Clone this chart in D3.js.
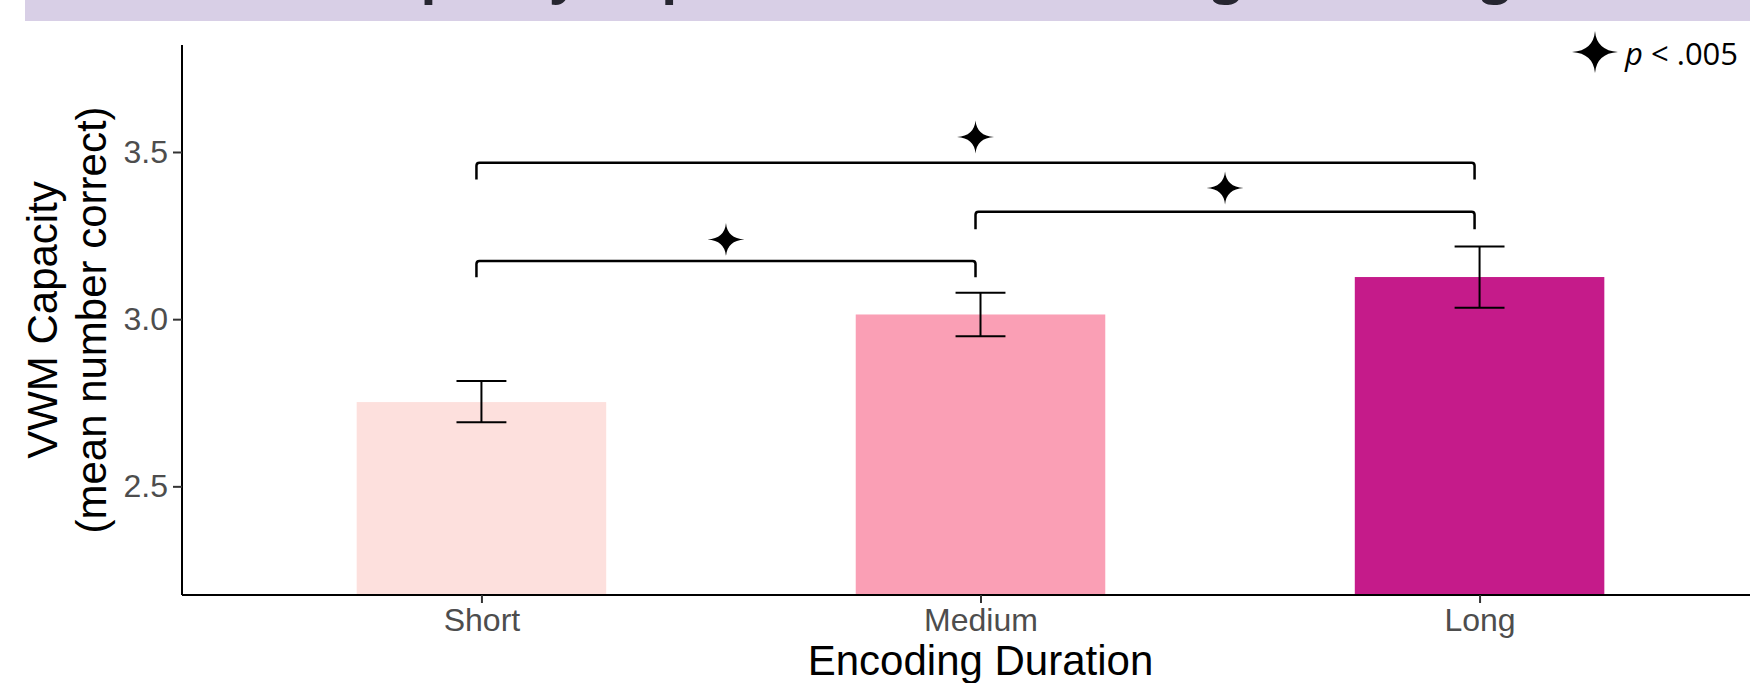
<!DOCTYPE html>
<html>
<head>
<meta charset="utf-8">
<script src="https://cdn.jsdelivr.net/npm/d3@7"></script>
<style>
  body { margin: 0; background: #fff; }
  svg { display: block; }
</style>
</head>
<body>
<div id="chart"></div>
<script>
// data
const categories = ["Short", "Medium", "Long"];
const means = [2.752, 3.014, 3.126];
const errLow = [2.692, 2.949, 3.034];
const errHigh = [2.815, 3.079, 3.217];
const barColors = ["#fde0dd", "#fa9fb5", "#c51b8a"];
const yTicks = [2.5, 3.0, 3.5];
const yDomain = [2.175, 3.82];

// significance brackets
const bracketFrom = ["Short", "Medium", "Short"];
const bracketTo = ["Medium", "Long", "Long"];
const bracketY = [3.174, 3.321, 3.468];
const bracketTip = [3.125, 3.269, 3.418];
const starY = [3.238, 3.392, 3.545];

const titleText = "VWM Capacity Improves when Encoding Gets Longer";
const W = 1750, H = 683;
const panel = { left: 182, top: 45, right: 1779, bottom: 595 };

const svg = d3.select("#chart")
  .append("svg")
  .attr("width", W)
  .attr("height", H)
  .style("overflow", "hidden");

// title band (text cut off at top of frame)
svg.append("rect")
  .attr("x", 25).attr("y", 0)
  .attr("width", W - 25).attr("height", 21)
  .attr("fill", "#d8cfe6");
svg.append("text")
  .attr("x", 887).attr("y", -8)
  .attr("text-anchor", "middle")
  .style("font-family", "'Open Sans', sans-serif")
  .style("font-weight", "bold")
  .style("font-size", "52px")
  .attr("fill", "#262630")
  .text(titleText);

// scales
const x = d3.scalePoint()
  .domain(categories)
  .range([panel.left, panel.right])
  .padding(0.6);
const step = x.step();
const barW = step * 0.5;
const capW = step * 0.1;
const nudge = -0.01 * step;

const y = d3.scaleLinear()
  .domain(yDomain)
  .range([panel.bottom, panel.top]);

// bars
svg.selectAll(".bar")
  .data(categories)
  .join("rect")
  .attr("class", "bar")
  .attr("x", d => x(d) - barW / 2)
  .attr("y", (d, i) => y(means[i]))
  .attr("width", barW)
  .attr("height", (d, i) => panel.bottom - y(means[i]))
  .attr("fill", (d, i) => barColors[i]);

// error bars
const eb = svg.selectAll(".eb")
  .data(categories)
  .join("g")
  .attr("class", "eb")
  .attr("stroke", "#000")
  .attr("stroke-width", 2);
eb.append("line")
  .attr("x1", d => x(d)).attr("x2", d => x(d))
  .attr("y1", (d, i) => y(errLow[i])).attr("y2", (d, i) => y(errHigh[i]));
eb.append("line")
  .attr("x1", d => x(d) - capW / 2).attr("x2", d => x(d) + capW / 2)
  .attr("y1", (d, i) => y(errHigh[i])).attr("y2", (d, i) => y(errHigh[i]));
eb.append("line")
  .attr("x1", d => x(d) - capW / 2).attr("x2", d => x(d) + capW / 2)
  .attr("y1", (d, i) => y(errLow[i])).attr("y2", (d, i) => y(errLow[i]));

// axes
const yAxis = svg.append("g")
  .attr("transform", `translate(${panel.left},0)`)
  .call(d3.axisLeft(y).tickValues(yTicks).tickFormat(d3.format(".1f")).tickSize(9).tickSizeOuter(0).tickPadding(5));
const xAxis = svg.append("g")
  .attr("transform", `translate(0,${panel.bottom})`)
  .call(d3.axisBottom(x).tickSize(8).tickSizeOuter(0).tickPadding(5));

[yAxis, xAxis].forEach(a => {
  a.select(".domain").attr("stroke", "#000").attr("stroke-width", 2);
  a.selectAll(".tick line").attr("stroke", "#333").attr("stroke-width", 2);
  a.selectAll(".tick text")
    .attr("fill", "#4d4d4d")
    .style("font-family", "'Liberation Sans', Arial, sans-serif")
    .style("font-size", "32px");
});
xAxis.select(".domain").attr("d", `M${panel.left},0H${W}`);
yAxis.select(".domain").attr("d", `M0,${panel.top}V${panel.bottom}`);
xAxis.selectAll(".tick text").attr("dy", "0.71em");

// axis titles
svg.append("text")
  .attr("x", (panel.left + panel.right) / 2)
  .attr("y", 675)
  .attr("text-anchor", "middle")
  .style("font-family", "'Liberation Sans', Arial, sans-serif")
  .style("font-size", "42px")
  .text("Encoding Duration");

const yTitle = svg.append("text")
  .attr("transform", `translate(0,${(panel.top + panel.bottom) / 2}) rotate(-90)`)
  .attr("text-anchor", "middle")
  .style("font-family", "'Liberation Sans', Arial, sans-serif")
  .style("font-size", "42px");
yTitle.append("tspan").attr("x", 0).attr("y", 57).text("VWM Capacity");
yTitle.append("tspan").attr("x", 0).attr("y", 106).text("(mean number correct)");

// four-point star
function starPath(rx, ry) {
  const k = 0.07;
  return `M0,${-ry}Q${k * rx},${-k * ry} ${rx},0Q${k * rx},${k * ry} 0,${ry}` +
    `Q${-k * rx},${k * ry} ${-rx},0Q${-k * rx},${-k * ry} 0,${-ry}Z`;
}

// brackets + stars
bracketFrom.forEach((from, i) => {
  const x1 = x(from) + nudge, x2 = x(bracketTo[i]) + nudge;
  const yb = y(bracketY[i]), yt = y(bracketTip[i]);
  svg.append("path")
    .attr("d", `M${x1},${yt}V${yb + 3}Q${x1},${yb} ${x1 + 3},${yb}H${x2 - 3}Q${x2},${yb} ${x2},${yb + 3}V${yt}`)
    .attr("fill", "none")
    .attr("stroke", "#000")
    .attr("stroke-width", 2.5);
  svg.append("path")
    .attr("transform", `translate(${(x1 + x2) / 2},${y(starY[i])})`)
    .attr("d", starPath(18.5, 16.5))
    .attr("fill", "#000");
});

// legend
svg.append("path")
  .attr("transform", "translate(1595,52)")
  .attr("d", starPath(23, 21))
  .attr("fill", "#000");
const leg = svg.append("text")
  .attr("x", 1625).attr("y", 65)
  .style("font-family", "'Open Sans', sans-serif")
  .style("font-size", "31px")
  .attr("fill", "#000");
leg.append("tspan").style("font-style", "italic").text("p");
leg.append("tspan").text(" < .005");
</script>
</body>
</html>
